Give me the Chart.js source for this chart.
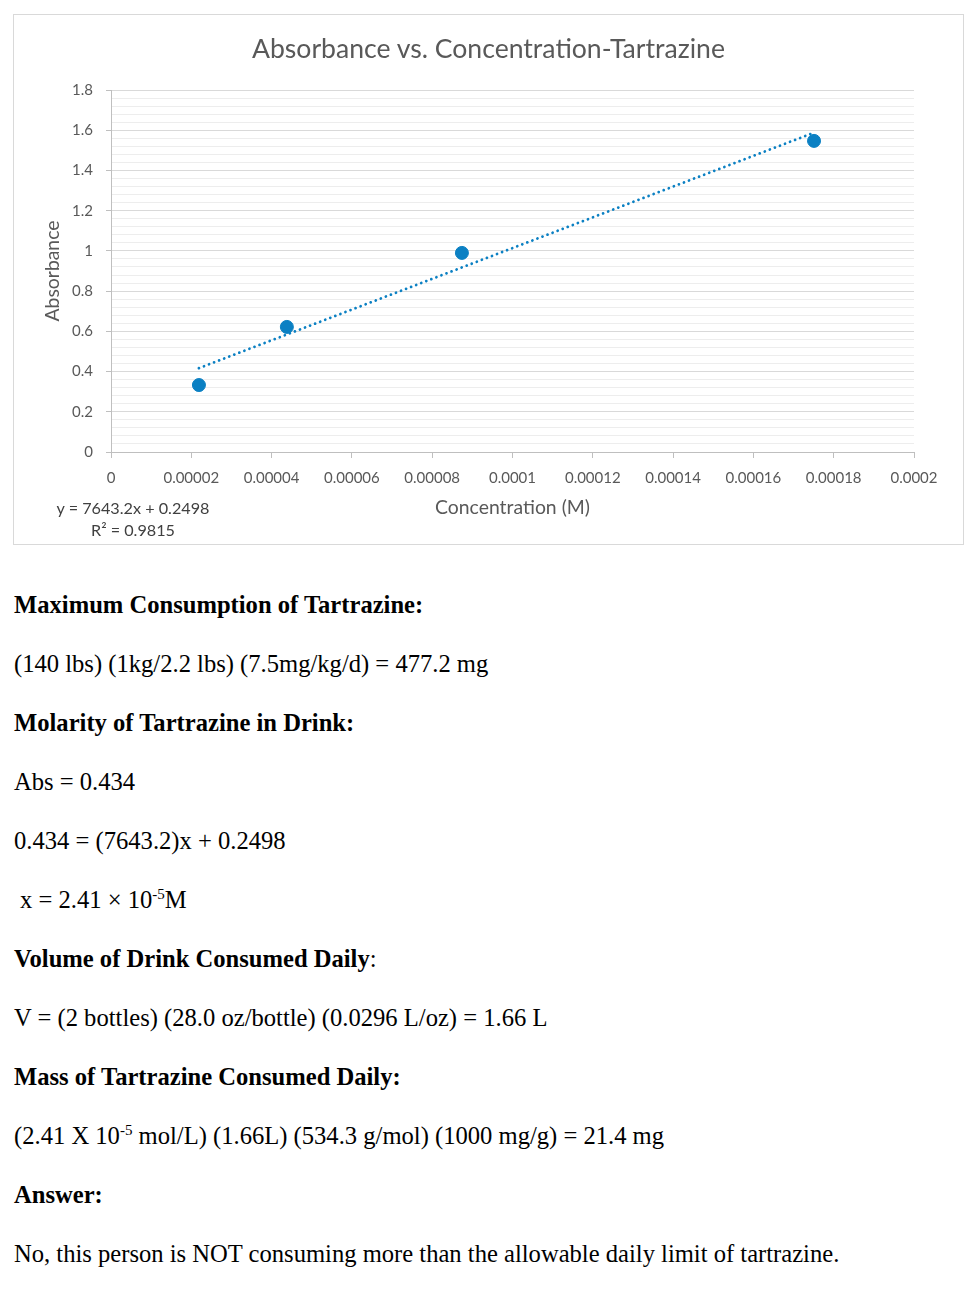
<!DOCTYPE html>
<html>
<head>
<meta charset="utf-8">
<script src="https://cdn.jsdelivr.net/npm/chart.js@4.4.1/dist/chart.umd.min.js"></script>
<style>
  html, body { margin: 0; padding: 0; background: #fff; }
  body { width: 980px; height: 1310px; position: relative; overflow: hidden; }
  #frame { position: absolute; left: 13px; top: 14px; width: 949px; height: 529px; border: 1px solid #d9d9d9; }
  #chartWrap { position: absolute; left: 0; top: 0; width: 949px; height: 529px; }
  #title { position: absolute; left: 0; top: 15px; width: 949px; text-align: center; font-family: Lato, sans-serif; font-size: 26.6px; line-height: 36px; color: #595959; white-space: nowrap; }
  .eq { position: absolute; left: 33px; width: 200px; text-align: center; font-family: Lato, sans-serif; font-size: 16.2px; color: #404040; line-height: 20px; }
  #text { position: absolute; left: 14px; top: 575px; width: 960px; font-family: "Liberation Serif", "Times New Roman", serif; font-size: 24.6px; color: #000; }
  #text div { height: 59px; line-height: 59px; white-space: nowrap; }
  #text b { font-weight: bold; }
  sup { font-size: 15px; line-height: 0; vertical-align: 9px; }
</style>
</head>
<body>
<div id="frame">
  <div id="chartWrap"><canvas id="c"></canvas></div>
  <div id="title"></div>
</div>
<div class="eq" style="top:498px;">y = 7643.2x + 0.2498</div>
<div class="eq" style="top:520px;">R² = 0.9815</div>

<div id="text">
  <div><b>Maximum Consumption of Tartrazine:</b></div>
  <div>(140 lbs) (1kg/2.2 lbs) (7.5mg/kg/d) = 477.2 mg</div>
  <div><b>Molarity of Tartrazine in Drink:</b></div>
  <div>Abs = 0.434</div>
  <div>0.434 = (7643.2)x + 0.2498</div>
  <div style="padding-left:6px;">x = 2.41 × 10<sup>-5</sup>M</div>
  <div><b>Volume of Drink Consumed Daily</b>:</div>
  <div>V = (2 bottles) (28.0 oz/bottle) (0.0296 L/oz) = 1.66 L</div>
  <div><b>Mass of Tartrazine Consumed Daily:</b></div>
  <div>(2.41 X 10<sup>-5</sup> mol/L) (1.66L) (534.3 g/mol) (1000 mg/g) = 21.4 mg</div>
  <div><b>Answer:</b></div>
  <div>No, this person is NOT consuming more than the allowable daily limit of tartrazine.</div>
</div>

<script>
// ---- data ----
const concentration = [0.0000219, 0.0000438, 0.0000874, 0.0001751];
const absorbance    = [0.333, 0.622, 0.990, 1.547];
// dotted linear trendline end points (as drawn)
const trendX = [0.0000219, 0.0001751];
const trendY = [0.417, 1.588];
// axis ticks
const xTickValues = [0, 0.00002, 0.00004, 0.00006, 0.00008, 0.0001, 0.00012, 0.00014, 0.00016, 0.00018, 0.0002];
const yMajorTicks = [0, 0.2, 0.4, 0.6, 0.8, 1, 1.2, 1.4, 1.6, 1.8];
const yMinorStep = 0.04;

const chartTitle = 'Absorbance vs. Concentration-Tartrazine';
const xTitle = 'Concentration (M)';
const yTitle = 'Absorbance';

document.getElementById('title').textContent = chartTitle;

// gridline positions (majors + minors)
const yGridValues = [];
for (let i = 0; i <= Math.round(1.8 / yMinorStep); i++) yGridValues.push(Math.round(i * yMinorStep * 100) / 100);
const isMajor = v => yMajorTicks.some(m => Math.abs(m - v) < 1e-9);

const pointsData = concentration.map((x, i) => ({ x: x, y: absorbance[i] }));
const trendData = trendX.map((x, i) => ({ x: x, y: trendY[i] }));

const FONT = 'Lato, "Open Sans", sans-serif';
const BLUE = '#0b80c3';

new Chart(document.getElementById('c'), {
  type: 'scatter',
  data: {
    datasets: [
      {
        label: 'Absorbance',
        data: pointsData,
        backgroundColor: BLUE,
        borderColor: BLUE,
        pointRadius: 6.5,
        pointHoverRadius: 6.5,
        order: 0
      },
      {
        label: 'Trendline',
        data: trendData,
        showLine: true,
        borderColor: BLUE,
        borderWidth: 2.8,
        borderDash: [0.01, 5.4],
        borderCapStyle: 'round',
        pointRadius: 0,
        fill: false,
        order: 1
      }
    ]
  },
  options: {
    responsive: true,
    maintainAspectRatio: false,
    animation: false,
    events: [],
    layout: { padding: { top: 75, left: 0, right: 49, bottom: 0 } },
    plugins: {
      legend: { display: false },
      tooltip: { enabled: false },
      title: { display: false }
    },
    scales: {
      x: {
        type: 'linear',
        min: 0,
        max: 0.0002,
        afterBuildTicks: axis => { axis.ticks = xTickValues.map(v => ({ value: v })); },
        afterFit: scale => { scale.height = 92; },
        border: { display: true, color: '#bfbfbf', width: 1 },
        grid: { drawOnChartArea: false, drawTicks: true, tickLength: 6, tickColor: '#bfbfbf' },
        ticks: {
          autoSkip: false,
          maxRotation: 0,
          padding: 11,
          color: '#595959',
          font: { family: FONT, size: 15 },
          callback: v => String(parseFloat(Number(v).toFixed(5)))
        },
        title: {
          display: true,
          text: xTitle,
          color: '#595959',
          font: { family: FONT, size: 19.4 },
          padding: { top: 0, bottom: 25 }
        }
      },
      y: {
        type: 'linear',
        min: 0,
        max: 1.8,
        afterBuildTicks: axis => { axis.ticks = yGridValues.map(v => ({ value: v })); },
        afterFit: scale => { scale.width = 97; },
        border: { display: true, color: '#bfbfbf', width: 1 },
        grid: {
          drawOnChartArea: true,
          drawTicks: true,
          tickLength: 5,
          color: ctx => (ctx.tick && isMajor(ctx.tick.value)) ? '#d9d9d9' : '#ededed',
          tickColor: ctx => (ctx.tick && isMajor(ctx.tick.value)) ? '#bfbfbf' : 'rgba(0,0,0,0)',
          lineWidth: 1
        },
        ticks: {
          autoSkip: false,
          padding: 13,
          color: '#595959',
          font: { family: FONT, size: 15 },
          callback: v => isMajor(v) ? String(parseFloat(Number(v).toFixed(1))) : ''
        },
        title: {
          display: true,
          text: yTitle,
          color: '#595959',
          font: { family: FONT, size: 19.4 },
          padding: { top: 27.4, bottom: 0 }
        }
      }
    }
  }
});
</script>
</body>
</html>
